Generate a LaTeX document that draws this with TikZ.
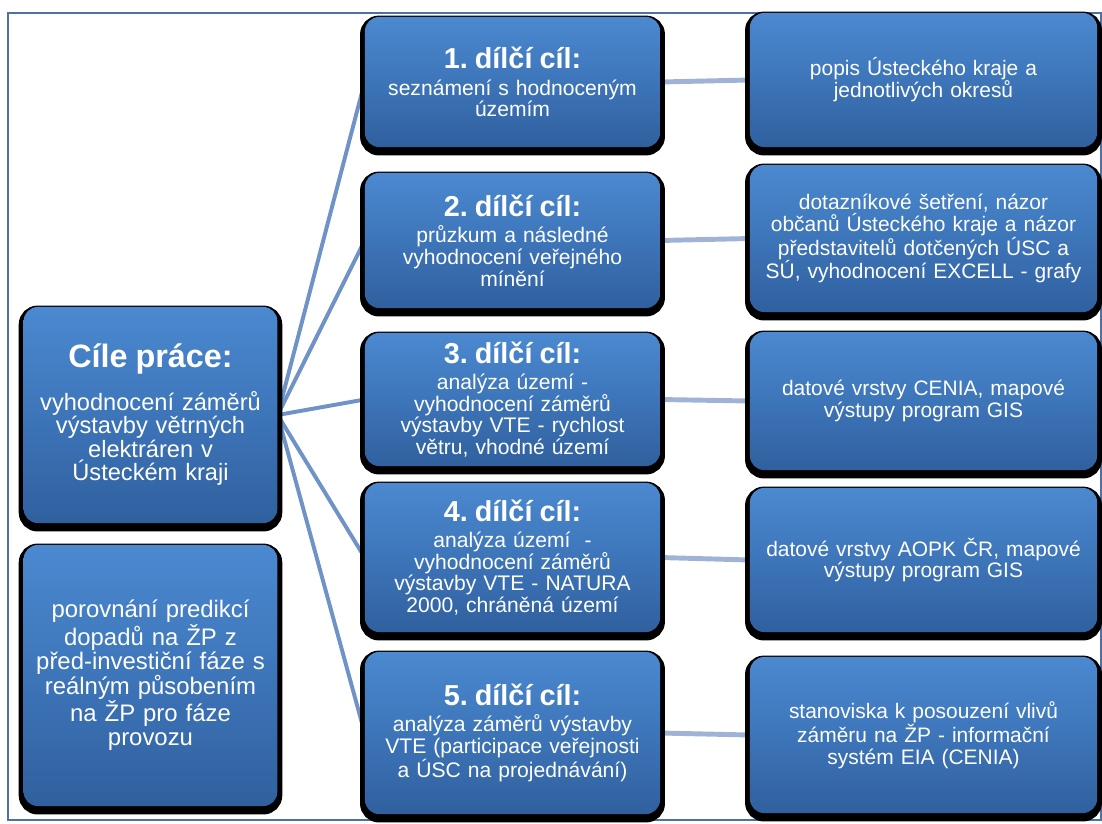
\documentclass[tikz,border=0pt]{standalone}
\usepackage{fontspec}
\setmainfont{Liberation Sans}
\usepackage{xcolor}
\usetikzlibrary{backgrounds}
\frenchspacing
\definecolor{boxtop}{HTML}{4B89D0}
\definecolor{boxmid}{HTML}{3D75B9}
\definecolor{boxbot}{HTML}{30609E}
\definecolor{framecol}{HTML}{4F70A5}
\definecolor{fancol}{HTML}{7093C7}
\definecolor{linkcol}{HTML}{A0B3D6}

\tikzset{
  cilbox/.style={rectangle, rounded corners=10pt, text=white, align=center, inner sep=2pt,
    top color=boxtop, bottom color=boxbot, middle color=boxmid,
    preaction={fill=black, draw=black, line width=7pt, transform canvas={yshift=-2.5pt}}},
  mainbox/.style={cilbox, minimum width=6.33cm, text width=6.2cm},
  subbox/.style={cilbox, minimum width=7.375cm, text width=7.1cm,
    font=\fontsize{15}{15.4}\selectfont},
  srcbox/.style={cilbox, minimum width=8.675cm, text width=8.4cm,
    font=\fontsize{14.9}{15.6}\selectfont},
  fanline/.style={draw=fancol, line width=2.8pt},
  linkline/.style={draw=linkcol, line width=3.5pt}
}

\begin{document}
\begin{tikzpicture}[x=0.025cm, y=-0.025cm]

  % bounding box
  \useasboundingbox (0,0) rectangle (1102,823);

  % outer frame
  \draw[framecol, line width=1pt] (8,13) rectangle (1101,820);

  % main goal
  \node[mainbox, minimum height=5.4cm, font=\fontsize{16.8}{16.7}\selectfont] (cil) at (150.5, 415)
    {{\fontsize{23}{25}\selectfont\bfseries Cíle práce:}\\[11pt]
     vyhodnocení záměrů\\ výstavby větrných\\ elektráren v\\ Ústeckém kraji};

  % comparison
  \node[mainbox, minimum height=6.525cm, font=\fontsize{17}{17.4}\selectfont] (porovnani) at (150.5, 675.5)
    {porovnání predikcí\\ dopadů na ŽP z\\ před-investiční fáze s\\ reálným působením\\ na ŽP pro fáze\\ provozu};

  % partial goals
  \node[subbox, minimum height=3.25cm] (m1) at (512.5, 82)
    {{\fontsize{20.5}{22}\selectfont\bfseries 1. dílčí cíl:}\\[3.4pt]
     seznámení s hodnoceným\\ územím};
  \node[subbox, minimum height=3.375cm] (m2) at (512.5, 240.5)
    {{\fontsize{20.5}{22}\selectfont\bfseries 2. dílčí cíl:}\\[3.4pt]
     průzkum a následné\\ vyhodnocení veřejného\\ mínění};
  \node[subbox, minimum height=3.325cm] (m3) at (512.5, 399.5)
    {{\fontsize{20.5}{22}\selectfont\bfseries 3. dílčí cíl:}\\[3.4pt]
     analýza území -\\ vyhodnocení záměrů\\ výstavby VTE - rychlost\\ větru, vhodné území};
  \node[subbox, minimum height=3.725cm] (m4) at (512.5, 557.5)
    {{\fontsize{20.5}{22}\selectfont\bfseries 4. dílčí cíl:}\\[3.4pt]
     analýza území~~-\\ vyhodnocení záměrů\\ výstavby VTE - NATURA\\ 2000, chráněná území};
  \node[subbox, minimum height=4.05cm] (m5) at (512.5, 733)
    {{\fontsize{20.5}{22}\selectfont\bfseries 5. dílčí cíl:}\\[3.4pt]
     analýza záměrů výstavby\\ VTE (participace veřejnosti\\ a ÚSC na projednávání)\\[6pt]};

  % sources
  \node[srcbox, minimum height=3.35cm] (r1) at (923.5, 80)
    {popis Ústeckého kraje a\\ jednotlivých okresů};
  \node[srcbox, minimum height=3.675cm] (r2) at (923.5, 238.5)
    {dotazníkové šetření, názor\\ občanů Ústeckého kraje a názor\\ představitelů dotčených ÚSC a\\ SÚ, vyhodnocení EXCELL - grafy};
  \node[srcbox, minimum height=3.45cm] (r3) at (923.5, 401)
    {datové vrstvy CENIA, mapové\\ výstupy program GIS};
  \node[srcbox, minimum height=3.6cm] (r4) at (923.5, 560)
    {datové vrstvy AOPK ČR, mapové\\ výstupy program GIS};
  \node[srcbox, minimum height=3.9cm] (r5) at (923.5, 735)
    {stanoviska k posouzení vlivů\\ záměru na ŽP - informační\\ systém EIA (CENIA)};

  % connectors
  \begin{pgfonlayer}{background}
    \draw[fanline] (cil.east) -- (m1.west);
    \draw[fanline] (cil.east) -- (m2.west);
    \draw[fanline] (cil.east) -- (m3.west);
    \draw[fanline] (cil.east) -- (m4.west);
    \draw[fanline] (cil.east) -- (m5.west);

    \draw[linkline] (m1.east) -- (r1.west);
    \draw[linkline] (m2.east) -- (r2.west);
    \draw[linkline] (m3.east) -- (r3.west);
    \draw[linkline] (m4.east) -- (r4.west);
    \draw[linkline] (m5.east) -- (r5.west);
  \end{pgfonlayer}

\end{tikzpicture}
\end{document}
